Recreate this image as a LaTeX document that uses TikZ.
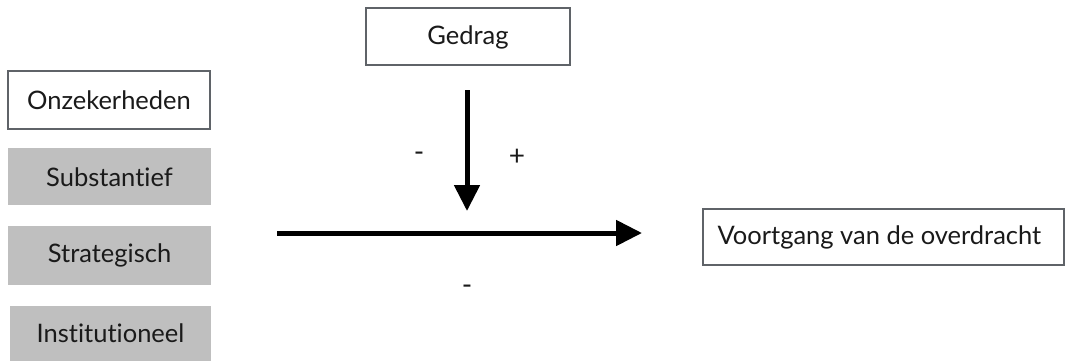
\documentclass[tikz,border=0pt]{standalone}
\usepackage{fontspec}
\setmainfont{Lato}[Ligatures=NoCommon]
\usetikzlibrary{arrows.meta}
\definecolor{boxline}{HTML}{5F6368}
\definecolor{boxgray}{HTML}{BFBFBF}
\definecolor{txt}{HTML}{1A1A1A}
\tikzset{
  framebox/.style={draw=boxline, line width=2pt, fill=white, inner sep=0pt},
  graybox/.style={fill=boxgray, draw=none, inner sep=0pt},
  lbl/.style={font=\fontsize{25.5}{30}\selectfont, text=txt},
  sign/.style={font=\fontsize{28}{32}\selectfont, text=txt, inner sep=0pt},
  bigarrow/.style={line width=5pt, -{Triangle[width=25pt,length=26pt]}},
}
\begin{document}
\begin{tikzpicture}[x=1pt,y=-1pt]
\useasboundingbox (0,0) rectangle (1065,360);

% category boxes on the left
\draw[framebox] (8,71) rectangle (210,129);
\node[lbl] (onz) at (109,100) {Onzekerheden};
\fill[graybox] (8,148) rectangle (211,205);
\node[lbl] (sub) at (109.5,177) {Substantief};
\fill[graybox] (8,226) rectangle (211,285);
\node[lbl] (str) at (109.5,255) {Strategisch};
\fill[graybox] (10,306) rectangle (211,362);
\node[lbl] (ins) at (110.5,333) {Institutioneel};

% behaviour box at the top
\draw[framebox] (366,8) rectangle (570,65);
\node[lbl] (ged) at (468,37) {Gedrag};

% outcome box on the right
\draw[framebox] (703,209) rectangle (1064,265);
\node[lbl, anchor=west] (voo) at (714,237) {Voortgang van de overdracht};

% arrows
\coordinate (vstart) at (467,90);
\coordinate (vend) at (467,211);
\draw[bigarrow] (vstart) -- (vend);
\coordinate (hstart) at (277,233);
\coordinate (hend) at (642,233);
\draw[bigarrow] (hstart) -- (hend);

% signs
\node[sign] (mleft) at (419,157) {-};
\node[sign] (plus) at (517,157) {+};
\node[sign] (mbelow) at (467,290) {-};
\end{tikzpicture}
\end{document}
